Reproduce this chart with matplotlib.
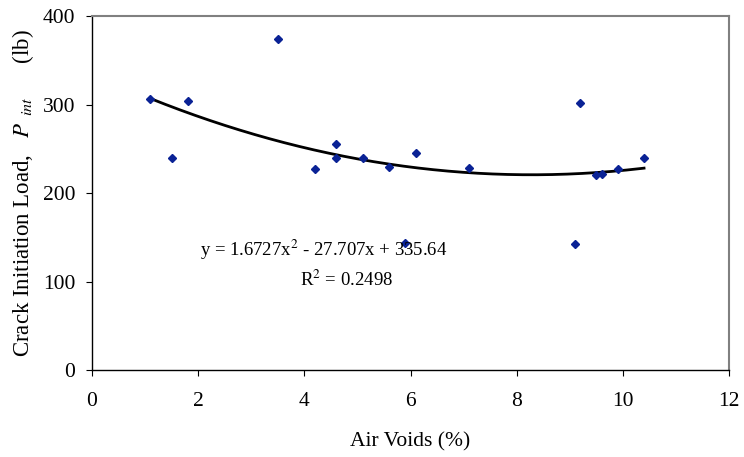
import numpy as np
import matplotlib
matplotlib.use("Agg")
from matplotlib import pyplot as plt

# air voids (%) and crack initiation load (lb)
air_voids = [1.1, 1.5, 1.8, 3.5, 4.2, 4.6, 4.6, 5.1, 5.6, 5.9, 6.1, 7.1,
             9.1, 9.2, 9.5, 9.6, 9.9, 10.4]
p_int = [307, 240, 304, 375, 227, 256, 240, 240, 230, 144, 245, 228,
         142, 302, 221, 222, 227, 240]

# 2nd order polynomial trend as printed on the chart
trend_coeffs = [1.6727, -27.707, 335.64]
r_squared = 0.2498

x_ticks = [0, 2, 4, 6, 8, 10, 12]
y_ticks = [0, 100, 200, 300, 400]

style = {
    "font.family": ["Liberation Serif", "DejaVu Serif"],
    "mathtext.fontset": "stix",
    "font.size": 15,
    "axes.linewidth": 1.0,
    "xtick.direction": "out",
    "ytick.direction": "out",
    "xtick.major.size": 4,
    "ytick.major.size": 4,
}
matplotlib.rcParams.update(style)

fig = plt.figure(figsize=(7.44, 4.57), dpi=100)
ax = fig.add_axes([0.1237, 0.1904, 0.8561, 0.7735])

ax.plot(air_voids, p_int, linestyle="None", marker="D", markersize=4.2,
        color="#0A2295", zorder=3)

xs = np.linspace(min(air_voids), max(air_voids), 200)
ax.plot(xs, np.polyval(trend_coeffs, xs), color="black", linewidth=2.0, zorder=2)

ax.set_xlim(0, 12)
ax.set_ylim(0, 400)
ax.set_xticks(x_ticks)
ax.set_yticks(y_ticks)
ax.tick_params(axis="x", labelsize=15.5, pad=12)
ax.tick_params(axis="y", labelsize=15.5, pad=8)

for side in ("top", "right"):
    ax.spines[side].set_color("#808080")
    ax.spines[side].set_linewidth(1.5)

ax.set_xlabel("Air Voids (%)", fontsize=15.5, labelpad=15)
ax.set_ylabel(r"Crack Initiation Load,   $P_{\ \ int}$      (lb)",
              fontsize=16.5, labelpad=5)

eq = (r"y = %.4fx$^2$ - %.3fx + %.2f" % (trend_coeffs[0], -trend_coeffs[1],
                                           trend_coeffs[2]))
ax.text(4.37, 136, eq, ha="center", va="center", fontsize=13.5)
ax.text(4.79, 101.5, r"R$^2$ = %.4f" % r_squared, ha="center", va="center",
        fontsize=13.5)

fig.savefig("out.png", dpi=100)
